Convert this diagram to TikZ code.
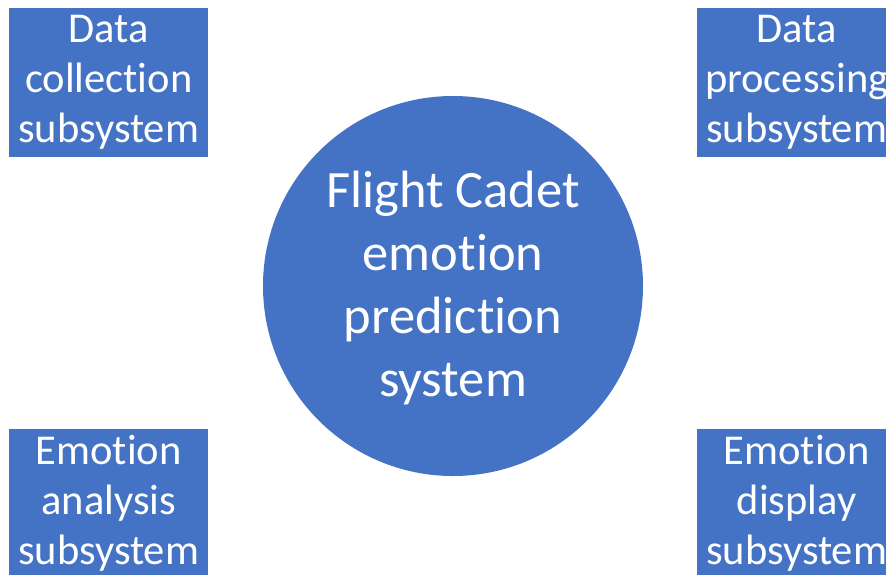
\documentclass[tikz,border=0pt]{standalone}
\usepackage{fontspec}
\setmainfont{Carlito}[Ligatures={NoCommon}]
\definecolor{officeblue}{HTML}{4472C4}
\begin{document}
\begin{tikzpicture}[x=1pt,y=1pt,
  subsys/.style={fill=officeblue, draw=none, text=white, align=center,
    minimum width=199pt, minimum height=149pt, inner sep=0pt, anchor=north west,
    font=\fontsize{42.5}{50}\selectfont},
  core/.style={circle, fill=officeblue, draw=none, text=white, align=center,
    minimum size=380pt, inner sep=0pt,
    font=\fontsize{52.5}{63}\selectfont}]
  \useasboundingbox (0,0) rectangle (886,-574);
  \clip (0,0) rectangle (886,-574);
  % four subsystem blocks
  \node[subsys] (collect) at (9,-8)    {Data\\collection\\subsystem};
  \node[subsys] (process) at (697,-8)  {Data\\processing\\subsystem};
  \node[subsys] (analyse) at (9,-429)  {Emotion\\analysis\\subsystem};
  \node[subsys] (display) at (697,-429) {Emotion\\display\\subsystem};
  % central system
  \node[core] (system) at (453,-286) {};
  \node[text=white, align=center, font=\fontsize{52.5}{63}\selectfont]
    (systemlabel) at ([yshift=-2pt]system.center) {Flight Cadet\\emotion\\prediction\\system};
\end{tikzpicture}
\end{document}
